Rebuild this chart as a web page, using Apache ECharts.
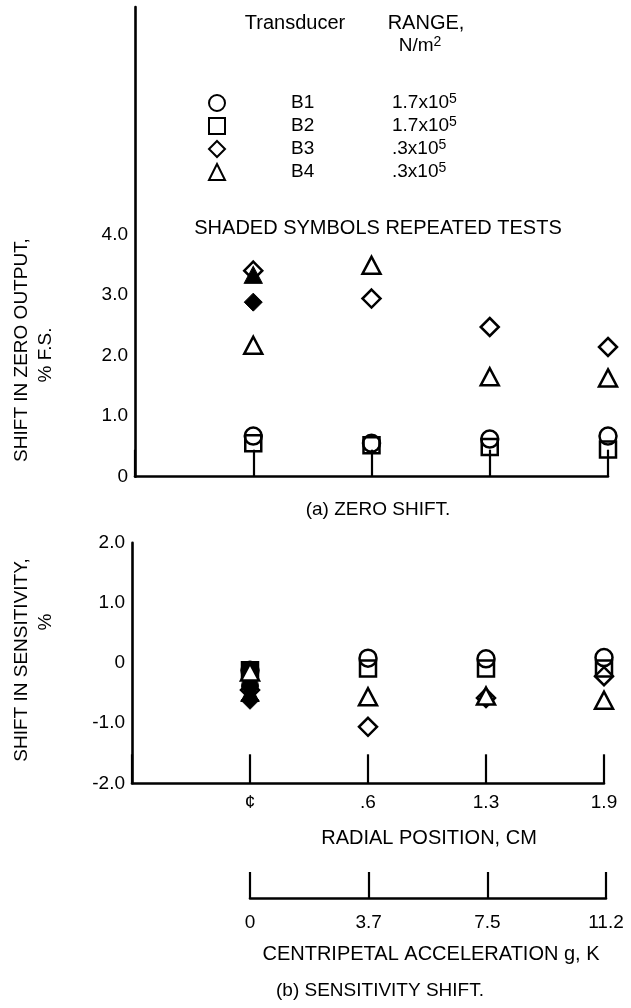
<!DOCTYPE html>
<html><head><meta charset="utf-8">
<script src="https://cdn.jsdelivr.net/npm/echarts@6/dist/echarts.min.js"></script>
<style>html,body{margin:0;padding:0;background:#fff}#c{width:631px;height:1008px}</style>
</head><body><div id="c"></div>
<script>
// ---- data ----
const radialLabels = ['', '¢', '.6', '1.3', '1.9'];
const accelLabels = ['0', '3.7', '7.5', '11.2'];
const zeroTickValues = [0, 1, 2, 3, 4];
const sensTickValues = [-2, -1, 0, 1, 2];
const transducers = ['B1', 'B2', 'B3', 'B4'];
const rangeMantissa = ['1.7x10', '1.7x10', '.3x10', '.3x10'];
const rangeExponent = ['5', '5', '5', '5'];
// zero shift (% F.S.) at ¢, .6, 1.3, 1.9
const zeroB1 = [0.67, 0.55, 0.62, 0.67];
const zeroB2 = [0.55, 0.52, 0.49, 0.45];
const zeroB3 = [3.40, 2.94, 2.47, 2.14];
const zeroB4 = [2.17, 3.49, 1.65, 1.63];
const zeroB3Rep = [2.88, null, null, null];
const zeroB4Rep = [3.33, null, null, null];
// sensitivity shift (%) at ¢, .6, 1.3, 1.9
const sensB1 = [-0.12, 0.08, 0.07, 0.09];
const sensB2 = [-0.12, -0.09, -0.09, -0.09];
const sensB3 = [-0.45, -1.06, -0.58, -0.22];
const sensB4 = [-0.15, -0.56, -0.55, -0.62];
const sensB1Rep = [-0.38, null, null, null];
const sensB2Rep = [-0.12, null, null, null];
const sensB3Rep = [-0.62, null, null, null];
const sensB4Rep = [-0.50, null, null, null];

// ---- styles ----
const FONT = '"Liberation Sans", Arial, sans-serif';
const INK = '#000';
const symbols = { B1: 'circle', B2: 'rect', B3: 'diamond', B4: 'triangle' };
const sizes = { B1: 17, B2: 16, B3: 18, B4: [18, 17] };

function pts(arr) {
  const out = [];
  arr.forEach((v, i) => { if (v !== null) out.push([radialLabels[i + 1], v]); });
  return out;
}
function ser(name, key, arr, gi, filled, fill) {
  return {
    type: 'scatter', name: name, xAxisIndex: gi, yAxisIndex: gi,
    symbol: symbols[key], symbolSize: sizes[key], data: pts(arr),
    itemStyle: filled ? { color: INK, borderColor: INK, borderWidth: 1, opacity: 1 }
                      : { color: fill || 'rgba(255,255,255,0)', borderColor: INK, borderWidth: 2.5, opacity: 1 },
    emphasis: { disabled: true }, silent: true, animation: false
  };
}
const fmt = v => v === 0 ? '0' : v.toFixed(1);
const axisLineStyle = { show: true, onZero: false, lineStyle: { color: INK, width: 2.6 } };

const chart = echarts.init(document.getElementById('c'), null, { renderer: 'canvas' });
const option = {
  backgroundColor: '#fff',
  animation: false,
  grid: [
    { left: 135, right: 23, top: 7, bottom: 531.3 },
    { left: 132, right: 27, top: 542.7, bottom: 224.7 },
    { left: 250, right: 25, top: 872, bottom: 110 }
  ],
  xAxis: [
    { gridIndex: 0, type: 'category', data: radialLabels, boundaryGap: false,
      axisLine: axisLineStyle, axisTick: { inside: true, length: 27, lineStyle: { color: INK, width: 2.2 } },
      axisLabel: { show: false }, splitLine: { show: false } },
    { gridIndex: 1, type: 'category', data: radialLabels, boundaryGap: false,
      axisLine: axisLineStyle, axisTick: { inside: true, length: 29, lineStyle: { color: INK, width: 2.2 } },
      axisLabel: { color: INK, fontSize: 19, fontFamily: FONT, margin: 10 }, splitLine: { show: false } },
    { gridIndex: 2, type: 'category', data: accelLabels, boundaryGap: false,
      axisLine: axisLineStyle, axisTick: { inside: true, length: 26, lineStyle: { color: INK, width: 2.2 } },
      axisLabel: { color: INK, fontSize: 19, fontFamily: FONT, margin: 15 }, splitLine: { show: false } }
  ],
  yAxis: [
    { gridIndex: 0, type: 'value', min: 0, max: 7.75, interval: 1,
      axisLine: axisLineStyle,
      axisTick: { inside: true, length: 26, customValues: zeroTickValues, lineStyle: { color: INK, width: 2.6 } },
      axisLabel: { customValues: zeroTickValues, formatter: fmt, color: INK, fontSize: 19, fontFamily: FONT, margin: 7 },
      splitLine: { show: false } },
    { gridIndex: 1, type: 'value', min: -2, max: 2, interval: 1,
      axisLine: axisLineStyle,
      axisTick: { inside: true, length: 27, customValues: sensTickValues, lineStyle: { color: INK, width: 2.6 } },
      axisLabel: { customValues: sensTickValues, formatter: fmt, color: INK, fontSize: 19, fontFamily: FONT, margin: 7 },
      splitLine: { show: false } },
    { gridIndex: 2, type: 'value', show: false, min: 0, max: 1 }
  ],
  legend: {
    orient: 'vertical', left: 203, top: 87, itemWidth: 16, itemHeight: 16, itemGap: 1,
    selectedMode: false, data: transducers,
    formatter: name => {
      const i = transducers.indexOf(name);
      return '{n|' + name + '}{r|' + rangeMantissa[i] + '}{s|' + rangeExponent[i] + '}';
    },
    textStyle: {
      color: INK, fontFamily: FONT, fontSize: 19, lineHeight: 22,
      rich: {
        n: { fontSize: 19, fontFamily: FONT, lineHeight: 22, width: 101, padding: [0, 0, 0, 61] },
        r: { fontSize: 19, fontFamily: FONT, lineHeight: 22 },
        s: { fontSize: 14, fontFamily: FONT, lineHeight: 14, verticalAlign: 'top' }
      }
    }
  },
  graphic: [
    { type: 'text', x: 295, y: 23, style: { text: 'Transducer', fontSize: 20, fontFamily: FONT, fill: INK, align: 'center', verticalAlign: 'middle' } },
    { type: 'text', x: 426, y: 23, style: { text: 'RANGE,', fontSize: 20, fontFamily: FONT, fill: INK, align: 'center', verticalAlign: 'middle' } },
    { type: 'text', x: 420, y: 46, style: { text: '{m|N/m}{s|2}', fill: INK, align: 'center', verticalAlign: 'middle',
        rich: { m: { fontSize: 19, fontFamily: FONT, lineHeight: 22 }, s: { fontSize: 14, fontFamily: FONT, lineHeight: 14, verticalAlign: 'top' } } } },
    { type: 'text', x: 378, y: 228, style: { text: 'SHADED SYMBOLS REPEATED TESTS', fontSize: 20, fontFamily: FONT, fill: INK, align: 'center', verticalAlign: 'middle' } },
    { type: 'text', x: 378, y: 510, style: { text: '(a) ZERO SHIFT.', fontSize: 19, fontFamily: FONT, fill: INK, align: 'center', verticalAlign: 'middle' } },
    { type: 'text', x: 429, y: 838, style: { text: 'RADIAL POSITION, CM', fontSize: 20, fontFamily: FONT, fill: INK, align: 'center', verticalAlign: 'middle' } },
    { type: 'text', x: 431, y: 954, style: { text: 'CENTRIPETAL ACCELERATION g, K', fontSize: 20, fontFamily: FONT, fill: INK, align: 'center', verticalAlign: 'middle' } },
    { type: 'text', x: 380, y: 991, style: { text: '(b) SENSITIVITY SHIFT.', fontSize: 19, fontFamily: FONT, fill: INK, align: 'center', verticalAlign: 'middle' } },
    { type: 'text', x: 22, y: 350, rotation: Math.PI / 2, style: { text: 'SHIFT IN ZERO OUTPUT,', fontSize: 19, fontFamily: FONT, fill: INK, align: 'center', verticalAlign: 'middle' } },
    { type: 'text', x: 46, y: 355, rotation: Math.PI / 2, style: { text: '% F.S.', fontSize: 19, fontFamily: FONT, fill: INK, align: 'center', verticalAlign: 'middle' } },
    { type: 'text', x: 22, y: 660, rotation: Math.PI / 2, style: { text: 'SHIFT IN SENSITIVITY,', fontSize: 19, fontFamily: FONT, fill: INK, align: 'center', verticalAlign: 'middle' } },
    { type: 'text', x: 46, y: 622, rotation: Math.PI / 2, style: { text: '%', fontSize: 19, fontFamily: FONT, fill: INK, align: 'center', verticalAlign: 'middle' } }
  ],
  series: [
    ser('B2', 'B2', zeroB2, 0, false),
    ser('B1', 'B1', zeroB1, 0, false),
    ser('B4 repeated', 'B4', zeroB4Rep, 0, true),
    ser('B3', 'B3', zeroB3, 0, false),
    ser('B4', 'B4', zeroB4, 0, false),
    ser('B3 repeated', 'B3', zeroB3Rep, 0, true),
    ser('B1', 'B1', sensB1, 1, false),
    ser('B2', 'B2', sensB2, 1, false),
    ser('B3', 'B3', sensB3, 1, false),
    ser('B1 repeated', 'B1', sensB1Rep, 1, true),
    ser('B4 repeated', 'B4', sensB4Rep, 1, true),
    ser('B3 repeated', 'B3', sensB3Rep, 1, true),
    ser('B2 repeated', 'B2', sensB2Rep, 1, true),
    ser('B4', 'B4', sensB4, 1, false, '#fff')
  ]
};
chart.setOption(option);
</script>
</body></html>
